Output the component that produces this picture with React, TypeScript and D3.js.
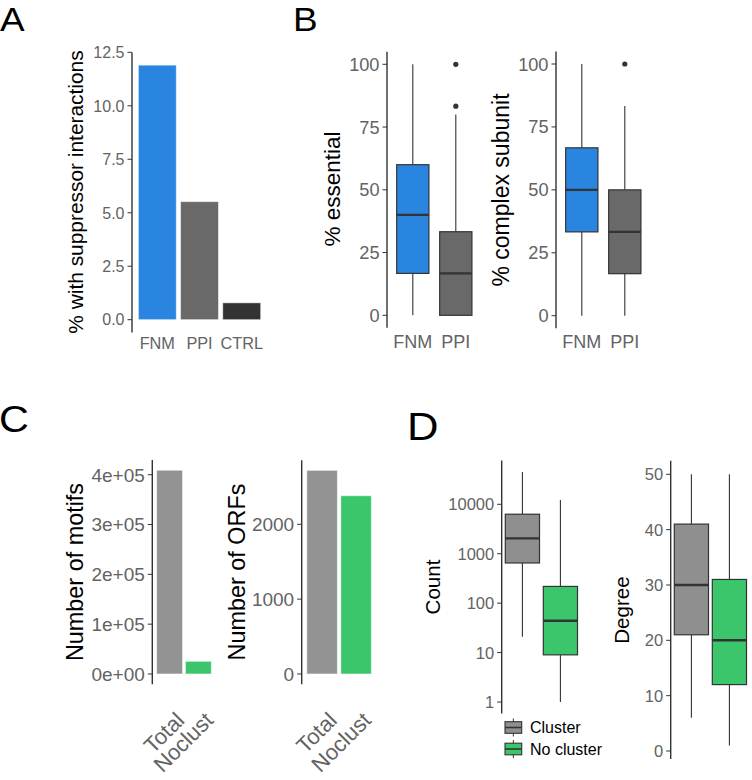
import React from 'react';
import * as d3 from 'd3';

const FONT = '"Liberation Sans", Arial, Helvetica, sans-serif';
const TICK_COLOR = '#636363';
const LINE_COLOR = '#333333';

// ---------- Panel A ----------
const suppCategories = ['FNM', 'PPI', 'CTRL'];
const suppValues = [11.9, 5.52, 0.79];
const suppColors = ['#2a85e0', '#696969', '#333333'];
const suppTicks = [0, 2.5, 5, 7.5, 10, 12.5];
const suppTickLabels = ['0.0', '2.5', '5.0', '7.5', '10.0', '12.5'];

// ---------- Panel B ----------
const networkGroups = ['FNM', 'PPI'];
const networkColors = ['#2a85e0', '#696969'];
const essentialMin = [0, 0];
const essentialQ1 = [16.7, 0];
const essentialMedian = [40, 16.7];
const essentialQ3 = [60, 33.3];
const essentialMax = [100, 80];
const essentialOutliers = [[], [83.3, 100]];
const complexMin = [0, 0];
const complexQ1 = [33.3, 16.7];
const complexMedian = [50, 33.3];
const complexQ3 = [66.7, 50];
const complexMax = [100, 83.3];
const complexOutliers = [[], [100]];
const percentTicks = [0, 25, 50, 75, 100];

// ---------- Panel C ----------
const motifCategories = ['Total', 'Noclust'];
const motifColors = ['#939393', '#3cc66c'];
const motifCounts = [409000, 25500];
const motifTicks = [0, 100000, 200000, 300000, 400000];
const motifTickLabels = ['0e+00', '1e+05', '2e+05', '3e+05', '4e+05'];
const orfCounts = [2721, 2382];
const orfTicks = [0, 1000, 2000];

// ---------- Panel D ----------
const clusterGroups = ['Cluster', 'No cluster'];
const clusterColors = ['#8f8f8f', '#3cc66c'];
const countMin = [21, 1];
const countQ1 = [650, 9];
const countMedian = [2040, 44];
const countQ3 = [6300, 218];
const countMax = [45000, 12200];
const countTicks = [1, 10, 100, 1000, 10000];
const degreeMin = [6, 1];
const degreeQ1 = [21, 12];
const degreeMedian = [30, 20];
const degreeQ3 = [41, 31];
const degreeMax = [50, 50];
const degreeTicks = [0, 10, 20, 30, 40, 50];

type Scale = (v: number) => number;

function YAxis({ x, y, ticks, labels, fontSize, top, bottom }: {
  x: number; y: Scale; ticks: number[]; labels?: string[]; fontSize: number; top: number; bottom: number;
}) {
  return (
    <g>
      <line x1={x} x2={x} y1={top} y2={bottom} stroke={LINE_COLOR} strokeWidth={1.4} />
      {ticks.map((t, i) => (
        <g key={i}>
          <line x1={x - 4.5} x2={x} y1={y(t)} y2={y(t)} stroke={LINE_COLOR} strokeWidth={1} />
          <text x={x - 7.5} y={y(t)} dy="0.36em" textAnchor="end" fontSize={fontSize} fill={TICK_COLOR} fontFamily={FONT}>
            {labels ? labels[i] : String(t)}
          </text>
        </g>
      ))}
    </g>
  );
}

function YTitle({ x, y, text, fontSize }: { x: number; y: number; text: string; fontSize: number }) {
  return (
    <text transform={`translate(${x},${y}) rotate(-90)`} textAnchor="middle" fontSize={fontSize} fill="#000" fontFamily={FONT}>
      {text}
    </text>
  );
}

function XLabels({ xs, labels, y, fontSize }: { xs: number[]; labels: string[]; y: number; fontSize: number }) {
  return (
    <g>
      {labels.map((l, i) => (
        <text key={i} x={xs[i]} y={y} textAnchor="middle" fontSize={fontSize} fill={TICK_COLOR} fontFamily={FONT}>{l}</text>
      ))}
    </g>
  );
}

function Bars({ x, y, cats, values, colors }: { x: d3.ScaleBand<string>; y: Scale; cats: string[]; values: number[]; colors: string[] }) {
  return (
    <g>
      {cats.map((c, i) => (
        <rect key={c} x={x(c)!} width={x.bandwidth()} y={y(values[i])} height={y(0) - y(values[i])}
          fill={colors[i]} stroke="#ffffff" strokeOpacity={0.55} strokeWidth={1} />
      ))}
    </g>
  );
}

function Boxes({ x, y, groups, colors, min, q1, med, q3, max, outliers, width }: {
  x: d3.ScalePoint<string>; y: Scale; groups: string[]; colors: string[];
  min: number[]; q1: number[]; med: number[]; q3: number[]; max: number[]; outliers?: number[][]; width: number;
}) {
  return (
    <g>
      {groups.map((g, i) => {
        const cx = x(g)!;
        return (
          <g key={g}>
            <line x1={cx} x2={cx} y1={y(max[i])} y2={y(q3[i])} stroke={LINE_COLOR} strokeWidth={1.1} />
            <line x1={cx} x2={cx} y1={y(q1[i])} y2={y(min[i])} stroke={LINE_COLOR} strokeWidth={1.1} />
            <rect x={cx - width / 2} width={width} y={y(q3[i])} height={y(q1[i]) - y(q3[i])}
              fill={colors[i]} stroke={LINE_COLOR} strokeWidth={1.2} />
            <line x1={cx - width / 2} x2={cx + width / 2} y1={y(med[i])} y2={y(med[i])} stroke={LINE_COLOR} strokeWidth={2.4} />
            {(outliers ? outliers[i] : []).map((o, j) => (
              <circle key={j} cx={cx} cy={y(o)} r={2.6} fill={LINE_COLOR} />
            ))}
          </g>
        );
      })}
    </g>
  );
}

function RotLabels({ x, labels, y, fontSize }: { x: d3.ScaleBand<string>; labels: string[]; y: number; fontSize: number }) {
  return (
    <g>
      {labels.map((l) => {
        const cx = x(l)! + x.bandwidth() / 2 + 5;
        return (
          <text key={l} transform={`translate(${cx},${y}) rotate(-45)`} textAnchor="end" dy="0.72em"
            fontSize={fontSize} fill={TICK_COLOR} fontFamily={FONT}>{l}</text>
        );
      })}
    </g>
  );
}

function PanelLetter({ x, y, text, size }: { x: number; y: number; text: string; size: number }) {
  return (
    <text transform={`translate(${x},${y}) scale(1.12,1)`} fontSize={size} fontFamily={FONT} fill="#000">{text}</text>
  );
}

export default function App() {
  // Panel A scales
  const aY = d3.scaleLinear().domain([0, 12.5]).range([319.7, 52.3]);
  const aX = d3.scaleBand<string>().domain(suppCategories).range([132, 132 + 42.2 * 3.2]).paddingInner(0.1).paddingOuter(0.15);
  const aMax = d3.max(suppValues)!;

  // Panel B scales
  const b1Y = d3.scaleLinear().domain([0, 100]).range([315.3, 64.3]);
  const b1X = d3.scalePoint<string>().domain(networkGroups).range([387, 387 + 43 * 2.2]).padding(0.6);
  const b2Y = d3.scaleLinear().domain([0, 100]).range([315.7, 64]);
  const b2X = d3.scalePoint<string>().domain(networkGroups).range([556, 556 + 43 * 2.2]).padding(0.6);

  // Panel C scales
  const c1Y = d3.scaleLinear().domain([0, 400000]).range([674, 474.7]);
  const c1X = d3.scaleBand<string>().domain(motifCategories).range([152.3, 152.3 + 28.8 * 2.2]).paddingInner(0.1).paddingOuter(0.15);
  const c2Y = d3.scaleLinear().domain([0, 2000]).range([674, 524.3]);
  const c2X = d3.scaleBand<string>().domain(motifCategories).range([301.7, 301.7 + 34 * 2.2]).paddingInner(0.1).paddingOuter(0.15);
  const mMax = d3.max(motifCounts)!;
  const oMax = d3.max(orfCounts)!;

  // Panel D scales
  const d1Y = d3.scaleLog().domain([1, 10000]).range([702, 504.3]);
  const d1X = d3.scalePoint<string>().domain(clusterGroups).range([501.7, 501.7 + 38 * 2.09]).padding(0.545);
  const d2Y = d3.scaleLinear().domain([0, 50]).range([751, 474.3]);
  const d2X = d3.scalePoint<string>().domain(clusterGroups).range([670.7, 670.7 + 38 * 2.09]).padding(0.545);
  const logMin = Math.log10(d3.min(countMin)!);
  const logMax = Math.log10(d3.max(countMax)!);
  const logPad = (logMax - logMin) * 0.05;
  const dMin = d3.min(degreeMin)!;
  const dMax = d3.max(degreeMax)!;
  const dPad = (dMax - dMin) * 0.05;

  return (
    <div style={{ position: 'absolute', left: 0, top: 0 }}>
      <svg width={752} height={780} style={{ display: 'block', background: '#fff' }}>
        <rect width={752} height={780} fill="#fff" />

        {/* Panel A */}
        <PanelLetter x={0} y={30.5} text="A" size={33} />
        <Bars x={aX} y={aY} cats={suppCategories} values={suppValues} colors={suppColors} />
        <YAxis x={132} y={aY} ticks={suppTicks} labels={suppTickLabels} fontSize={16}
          top={aY(aMax * 1.05)} bottom={aY(-aMax * 0.05)} />
        <YTitle x={83} y={192} text="% with suppressor interactions" fontSize={20.9} />
        <XLabels xs={suppCategories.map((c) => aX(c)! + aX.bandwidth() / 2)} labels={suppCategories} y={349} fontSize={16.3} />

        {/* Panel B */}
        <PanelLetter x={293} y={30.5} text="B" size={33} />
        <Boxes x={b1X} y={b1Y} groups={networkGroups} colors={networkColors}
          min={essentialMin} q1={essentialQ1} med={essentialMedian} q3={essentialQ3} max={essentialMax}
          outliers={essentialOutliers} width={43 * 0.75} />
        <YAxis x={387} y={b1Y} ticks={percentTicks} fontSize={18.2} top={b1Y(105)} bottom={b1Y(-5)} />
        <YTitle x={339.5} y={189} text="% essential" fontSize={22.5} />
        <XLabels xs={networkGroups.map((g) => b1X(g)!)} labels={networkGroups} y={347.5} fontSize={18} />

        <Boxes x={b2X} y={b2Y} groups={networkGroups} colors={networkColors}
          min={complexMin} q1={complexQ1} med={complexMedian} q3={complexQ3} max={complexMax}
          outliers={complexOutliers} width={43 * 0.75} />
        <YAxis x={556} y={b2Y} ticks={percentTicks} fontSize={18.2} top={b2Y(105)} bottom={b2Y(-5)} />
        <YTitle x={508.5} y={190} text="% complex subunit" fontSize={23} />
        <XLabels xs={networkGroups.map((g) => b2X(g)!)} labels={networkGroups} y={348} fontSize={18} />

        {/* Panel C */}
        <PanelLetter x={-1} y={431.5} text="C" size={37} />
        <Bars x={c1X} y={c1Y} cats={motifCategories} values={motifCounts} colors={motifColors} />
        <YAxis x={152.3} y={c1Y} ticks={motifTicks} labels={motifTickLabels} fontSize={19}
          top={c1Y(mMax * 1.05)} bottom={c1Y(-mMax * 0.05)} />
        <YTitle x={83} y={572} text="Number of motifs" fontSize={23.4} />
        <RotLabels x={c1X} labels={motifCategories} y={710.5} fontSize={22} />

        <Bars x={c2X} y={c2Y} cats={motifCategories} values={orfCounts} colors={motifColors} />
        <YAxis x={301.7} y={c2Y} ticks={orfTicks} fontSize={19}
          top={c2Y(oMax * 1.05)} bottom={c2Y(-oMax * 0.05)} />
        <YTitle x={245} y={572} text="Number of ORFs" fontSize={23.4} />
        <RotLabels x={c2X} labels={motifCategories} y={710.5} fontSize={22} />

        {/* Panel D */}
        <PanelLetter x={407} y={440} text="D" size={39} />
        <Boxes x={d1X} y={d1Y} groups={clusterGroups} colors={clusterColors}
          min={countMin} q1={countQ1} med={countMedian} q3={countQ3} max={countMax} width={38 * 0.9} />
        <YAxis x={501.7} y={d1Y} ticks={countTicks} fontSize={16.5}
          top={d1Y(Math.pow(10, logMax + logPad))} bottom={d1Y(Math.pow(10, logMin - logPad))} />
        <YTitle x={440} y={587} text="Count" fontSize={20.6} />

        <Boxes x={d2X} y={d2Y} groups={clusterGroups} colors={clusterColors}
          min={degreeMin} q1={degreeQ1} med={degreeMedian} q3={degreeQ3} max={degreeMax} width={38 * 0.9} />
        <YAxis x={670.7} y={d2Y} ticks={degreeTicks} fontSize={16.5}
          top={d2Y(dMax + dPad)} bottom={d2Y(dMin - dPad)} />
        <YTitle x={628.5} y={610} text="Degree" fontSize={20.6} />

        {/* Legend */}
        {clusterGroups.map((g, i) => {
          const cy = 727.5 + i * 21.5;
          const kx = 505;
          const kw = 16.7;
          return (
            <g key={g}>
              <line x1={kx + kw / 2} x2={kx + kw / 2} y1={cy - 9} y2={cy + 9} stroke={LINE_COLOR} strokeWidth={1} />
              <rect x={kx} y={cy - 5.8} width={kw} height={11.6} fill={clusterColors[i]} stroke={LINE_COLOR} strokeWidth={1.1} />
              <line x1={kx} x2={kx + kw} y1={cy} y2={cy} stroke={LINE_COLOR} strokeWidth={1.6} />
              <text x={530} y={cy} dy="0.36em" fontSize={16} fontFamily={FONT} fill="#000">{g}</text>
            </g>
          );
        })}
      </svg>
    </div>
  );
}
